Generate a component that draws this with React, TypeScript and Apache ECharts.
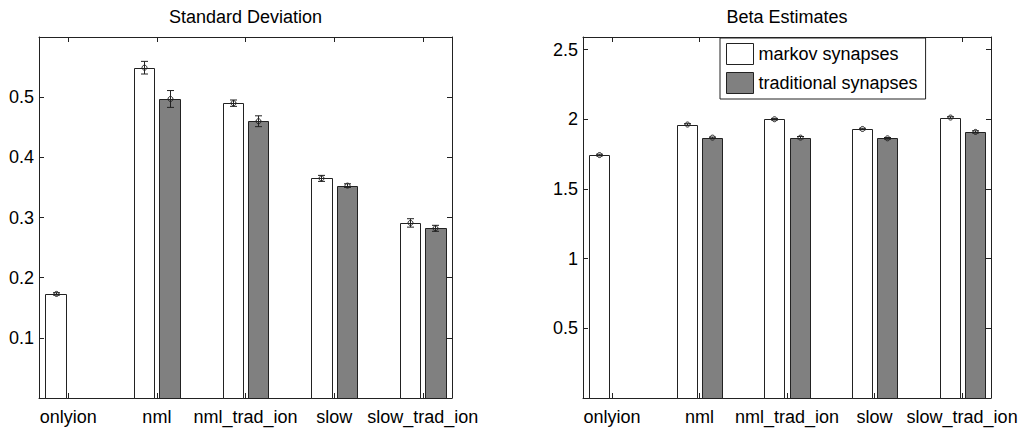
import React, { useEffect, useRef } from "react";
import * as echarts from "echarts";

const categories = ["onlyion", "nml", "nml_trad_ion", "slow", "slow_trad_ion"];
const seriesNames = ["markov synapses", "traditional synapses"];

const sdMarkov = [0.173, 0.549, 0.49, 0.365, 0.291];
const sdMarkovErr = [0.002, 0.0105, 0.0053, 0.005, 0.007];
const sdTrad = [null, 0.497, 0.46, 0.353, 0.282];
const sdTradErr = [null, 0.014, 0.009, 0.003, 0.005];

const betaMarkov = [1.743, 1.962, 2.0, 1.93, 2.012];
const betaMarkovErr = [0.006, 0.006, 0.006, 0.005, 0.006];
const betaTrad = [null, 1.868, 1.868, 1.863, 1.909];
const betaTradErr = [null, 0.004, 0.008, 0.006, 0.008];

const sdTicks = [0, 0.1, 0.2, 0.3, 0.4, 0.5, 0.6];
const betaTicks = [0, 0.5, 1, 1.5, 2, 2.5];
const titles = ["Standard Deviation", "Beta Estimates"];

const FONT = "'Liberation Sans', Arial, Helvetica, sans-serif";
const INK = "#222";
const BAR_W = 0.2286;
const OFFSET = 0.1429;
const X_MIN = 0.67;
const X_MAX = 5.33;
const groupPos = categories.map((_, i) => i + 1);

function barSeries(
  name: string,
  values: (number | null)[],
  errs: (number | null)[],
  side: number,
  axisIndex: number,
  fill: string
) {
  const data = values
    .map((v, i) => (v == null ? null : [groupPos[i], v, errs[i] ?? 0]))
    .filter((d) => d !== null);
  return {
    type: "custom",
    name,
    xAxisIndex: axisIndex,
    yAxisIndex: axisIndex,
    itemStyle: { color: fill, borderColor: INK, borderWidth: 1 },
    encode: { x: 0, y: 1 },
    data,
    renderItem: (params: any, api: any) => {
      const xc = api.value(0) + side * OFFSET;
      const y = api.value(1);
      const e = api.value(2);
      const tl = api.coord([xc - BAR_W / 2, y]);
      const br = api.coord([xc + BAR_W / 2, 0]);
      const top = api.coord([xc, y + e]);
      const bot = api.coord([xc, y - e]);
      const mid = api.coord([xc, y]);
      const x0 = Math.round(tl[0]) + 0.5;
      const x1 = Math.round(br[0]) + 0.5;
      const y0 = Math.round(tl[1]) + 0.5;
      const y1 = Math.round(br[1]) + 0.5;
      const cx = Math.round(mid[0]) + 0.5;
      const cap = 3.5;
      const s = { stroke: INK, lineWidth: 1 };
      return {
        type: "group",
        children: [
          {
            type: "rect",
            shape: { x: x0, y: y0, width: x1 - x0, height: y1 - y0 },
            style: { fill, stroke: INK, lineWidth: 1 },
          },
          { type: "line", shape: { x1: cx, y1: top[1], x2: cx, y2: bot[1] }, style: s },
          { type: "line", shape: { x1: cx - cap, y1: top[1], x2: cx + cap, y2: top[1] }, style: s },
          { type: "line", shape: { x1: cx - cap, y1: bot[1], x2: cx + cap, y2: bot[1] }, style: s },
          {
            type: "circle",
            shape: { cx, cy: mid[1], r: 2.5 },
            style: { fill: "none", stroke: INK, lineWidth: 1 },
          },
        ],
      };
    },
  };
}

function xAxes(gridIndex: number) {
  const common = {
    type: "value",
    gridIndex,
    min: X_MIN,
    max: X_MAX,
    splitLine: { show: false },
    axisLine: { show: true, onZero: false, lineStyle: { color: INK, width: 1 } },
    axisTick: { show: true, inside: true, length: 5, customValues: groupPos, lineStyle: { color: INK } },
  };
  return [
    {
      ...common,
      position: "bottom",
      axisLabel: {
        show: true,
        customValues: groupPos,
        margin: 10,
        color: "#000",
        fontSize: 18,
        fontFamily: FONT,
        formatter: (v: number) => categories[Math.round(v) - 1] ?? "",
      },
    },
    { ...common, position: "top", axisLabel: { show: false } },
  ];
}

function yAxes(gridIndex: number, ticks: number[], max: number, interval: number) {
  const common = {
    type: "value",
    gridIndex,
    min: 0,
    max,
    interval,
    splitLine: { show: false },
    axisLine: { show: true, onZero: false, lineStyle: { color: INK, width: 1 } },
    axisTick: { show: true, inside: true, length: 5, customValues: ticks, lineStyle: { color: INK } },
  };
  const labels = ticks.slice(1).filter((t) => t < max - 0.05);
  return [
    {
      ...common,
      position: "left",
      axisLabel: {
        show: true,
        customValues: labels,
        margin: 5,
        color: "#000",
        fontSize: 18,
        fontFamily: FONT,
        formatter: (v: number) => String(Math.round(v * 10) / 10),
      },
    },
    { ...common, position: "right", axisLabel: { show: false } },
  ];
}

export default function App() {
  const ref = useRef<HTMLDivElement>(null);
  useEffect(() => {
    if (!ref.current) return;
    const chart = echarts.init(ref.current, undefined, { renderer: "svg" });
    const grids = [
      { left: 39, right: 578, top: 37, bottom: 32 },
      { left: 583, right: 39, top: 37, bottom: 32 },
    ];
    const gridCenters = [(39 + 452) / 2, (583 + 991) / 2];
    chart.setOption({
      animation: false,
      backgroundColor: "#fff",
      grid: grids,
      xAxis: [...xAxes(0), ...xAxes(1)],
      yAxis: [...yAxes(0, sdTicks, 0.6, 0.1), ...yAxes(1, betaTicks, 2.59, 0.5)],
      legend: {
        show: true,
        orient: "vertical",
        left: 720,
        top: 38,
        padding: [5, 8, 5, 6],
        itemWidth: 27,
        itemHeight: 21,
        itemGap: 7,
        selectedMode: false,
        borderColor: INK,
        borderWidth: 1,
        backgroundColor: "#fff",
        icon: "rect",
        textStyle: { fontSize: 18, fontFamily: FONT, color: "#000" },
        data: [
          { name: seriesNames[0], icon: "rect", itemStyle: { color: "#ffffff", borderColor: INK, borderWidth: 1 } },
          { name: seriesNames[1], icon: "rect", itemStyle: { color: "#808080", borderColor: INK, borderWidth: 1 } },
        ],
      },
      graphic: titles.map((t, i) => ({
        type: "text",
        x: gridCenters[i],
        y: 16.5,
        style: {
          text: t,
          fill: "#000",
          fontSize: 18,
          fontFamily: FONT,
          align: "center",
          verticalAlign: "middle",
        },
      })),
      series: [
        barSeries(seriesNames[0], sdMarkov, sdMarkovErr, -1, 0, "#ffffff"),
        barSeries(seriesNames[1], sdTrad, sdTradErr, 1, 0, "#808080"),
        barSeries(seriesNames[0], betaMarkov, betaMarkovErr, -1, 2, "#ffffff"),
        barSeries(seriesNames[1], betaTrad, betaTradErr, 1, 2, "#808080"),
      ],
    });
    return () => chart.dispose();
  }, []);
  return (
    <div
      ref={ref}
      style={{ position: "fixed", left: 0, top: 0, width: 1030, height: 430, background: "#fff" }}
    />
  );
}
